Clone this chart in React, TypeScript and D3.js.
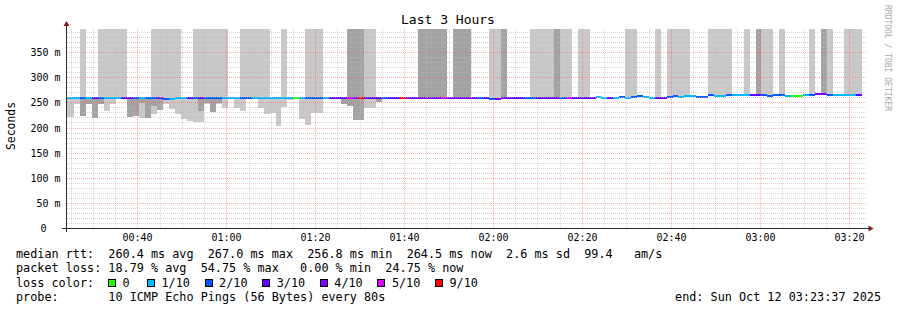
import React from 'react';
import * as d3 from 'd3';

// ---------- data ----------
const DAY = Date.UTC(2025, 9, 12);
const at = (h: number, m: number, s: number) => new Date(DAY + ((h * 60 + m) * 60 + s) * 1000);

const TITLE = 'Last 3 Hours';
const VIEW_START = at(0, 24, 2);
const VIEW_END = at(3, 24, 2);
const FIRST_STEP = at(0, 22, 57);
const STEP_MS = 80000;
const Y_MAX = 400;
const SMOKE_TOP = 398;

// lost pings (of 10) per 80 s step
const LOSS = [
  1,
  1, 1, 2, 1, 3, 2, 1, 1, 1, 3,
  3, 2, 1, 2, 2, 3, 2, 1, 1, 1,
  3, 2, 3, 2, 2, 2, 1, 1, 1, 2,
  2, 1, 1, 1, 1, 1, 1, 1, 0, 1,
  2, 2, 2, 1, 3, 3, 3, 5, 4, 9,
  3, 3, 3, 2, 3, 3, 9, 4, 4, 4,
  4, 4, 4, 5, 4, 4, 4, 4, 4, 2,
  3, 2, 4, 4, 3, 3, 3, 2, 2, 3,
  3, 3, 4, 2, 5, 3, 3, 3, 3, 1,
  1, 3, 1, 2, 1, 2, 2, 1, 1, 3,
  3, 2, 2, 1, 1, 1, 2, 2, 2, 1,
  1, 2, 1, 1, 1, 3, 3, 2, 2, 2,
  2, 1, 0, 0, 1, 2, 4, 4, 2, 1,
  1, 1, 1, 3,
];

// median rtt (ms) per step
const MEDIAN = [
  259,
  259, 259, 259, 259, 259, 259, 259, 259, 259, 259,
  259, 259, 259, 259, 259, 259, 257.5, 257.5, 259, 259,
  259, 259, 259, 259, 259, 259, 259, 259, 259, 259,
  259, 259, 259, 259.5, 259.5, 259.5, 259.5, 259.5, 259.5, 259.5,
  259.5, 259.5, 259.5, 259.5, 259.5, 259.5, 259.5, 259.5, 259.5, 259.5,
  259.5, 259.5, 259.5, 259.5, 259.5, 259.5, 259.5, 259.5, 259.5, 259.5,
  259.5, 259.5, 259.5, 259.5, 259.5, 259.5, 259.5, 259.5, 259.5, 259.5,
  259.5, 257.5, 257.5, 259.5, 259.5, 259.5, 259.5, 259.5, 259.5, 259.5,
  259.5, 259.5, 259.5, 259.5, 259.5, 259.5, 259.5, 259.5, 259.5, 262.5,
  259.5, 259.5, 260, 261, 260.5, 261, 263, 261, 260, 259.5,
  259.5, 262, 263, 262, 263, 263, 262.5, 262.5, 265.5, 264.5,
  263, 266, 265, 265, 265, 266, 266, 265, 264, 265,
  265, 263, 264.5, 264.5, 265, 266, 267, 267, 266, 265.5,
  266.5, 266, 266, 265.5,
];

// smoke reaching the top of the graph: [first step, last step]
const TOP_SMOKE_LIGHT = [
  [3, 3], [6, 10], [15, 19], [22, 27], [30, 34], [37, 37], [41, 43], [51, 52],
  [72, 73], [79, 82], [84, 85], [87, 88], [95, 96], [100, 100], [102, 105],
  [109, 112], [115, 115], [118, 119], [121, 121], [126, 126], [129, 129], [132, 134],
];
const TOP_SMOKE_DARK = [
  [48, 50], [60, 64], [66, 68], [74, 74], [83, 83], [117, 117], [128, 128],
];

// smoke below the median: [step, light low (ms), dark low (ms)]
const SMOKE_BELOW: [number, number | null, number | null][] = [
  [0, 221, null], [1, 221, null], [2, 247, null], [3, 223, 223], [4, 247, 247],
  [5, 219.5, 219.5], [6, 247, 247], [7, 234, null], [8, 248, null],
  [11, 221.5, 221.5], [12, 223.5, 223.5], [13, 219.5, 249], [14, 219.5, 219.5],
  [15, 227.5, 243], [16, 235, 235], [17, 247, null], [18, 237, null], [19, 227.5, null],
  [20, 217.5, null], [21, 213.5, null], [22, 211.5, null], [23, 211.5, 233],
  [24, 247, 250], [25, 231, 231], [26, 247, 250], [27, 239, null], [29, 239, null],
  [30, 233, null], [33, 240, null], [34, 227.5, null], [35, 229.4, null],
  [36, 203.6, null], [37, 241.4, null], [38, 255, null], [40, 217.5, null],
  [41, 205.6, null], [42, 229.4, null], [43, 229.4, null], [47, null, 247.3],
  [48, null, 243.4], [49, null, 215.5], [50, null, 215.5], [51, 239.4, null],
  [52, 239.4, null], [53, null, 251.3],
];

const Y_TICKS = [0, 50, 100, 150, 200, 250, 300, 350];

const LOSS_COLORS: Record<number, string> = {
  0: '#26ff00', 1: '#00b8ff', 2: '#0059ff', 3: '#5e00ff', 4: '#7e00ff', 5: '#dd00ff', 9: '#ff0000',
};
const LOSS_LEGEND: [number, string][] = [
  [0, '0'], [1, '1/10'], [2, '2/10'], [3, '3/10'], [4, '4/10'], [5, '5/10'], [9, '9/10'],
];

const LEGEND_RTT = 'median rtt:  260.4 ms avg  267.0 ms max  256.8 ms min  264.5 ms now  2.6 ms sd  99.4   am/s';
const LEGEND_LOSS = 'packet loss: 18.79 % avg  54.75 % max   0.00 % min  24.75 % now';
const LEGEND_COLOR = 'loss color:';
const LEGEND_PROBE = 'probe:       10 ICMP Echo Pings (56 Bytes) every 80s';
const LEGEND_END = 'end: Sun Oct 12 03:23:37 2025';
const WATERMARK = 'RRDTOOL / TOBI OETIKER';
const Y_TITLE = 'Seconds';

// ---------- chart ----------
const W = 897;
const H = 310;
const X0 = 67;
const X1 = 867;
const MONO = "'DejaVu Sans Mono', monospace";
const LIGHT = '#c9c9c9';
const DARK = '#a3a3a3';

export default function App() {
  const x = d3.scaleUtc().domain([VIEW_START, VIEW_END]).range([X0, X1]);
  const y = d3.scaleLinear().domain([0, Y_MAX]).range([228.5, 27.5]);
  const fmt = d3.utcFormat('%H:%M');

  const stepX = (i: number) => {
    const a = x(new Date(FIRST_STEP.getTime() + i * STEP_MS));
    const b = x(new Date(FIRST_STEP.getTime() + (i + 1) * STEP_MS));
    return [Math.max(X0, Math.round(a)), Math.min(X1, Math.round(b))];
  };
  const ry = (v: number) => Math.round(y(v));

  const rects: React.ReactNode[] = [];
  const topRuns = (runs: number[][], fill: string, key: string) => {
    runs.forEach(([a, b]) => {
      for (let i = a; i <= b; i++) {
        const [x0, x1] = stepX(i);
        if (x1 <= x0) continue;
        const top = ry(SMOKE_TOP);
        const bot = ry(MEDIAN[i]);
        rects.push(<rect key={`${key}${i}`} x={x0} y={top} width={x1 - x0} height={bot - top} fill={fill} />);
      }
    });
  };
  topRuns(TOP_SMOKE_LIGHT, LIGHT, 'tl');
  topRuns(TOP_SMOKE_DARK, DARK, 'td');

  SMOKE_BELOW.forEach(([i, lo, dk]) => {
    const [x0, x1] = stepX(i);
    if (x1 <= x0) return;
    const m = ry(MEDIAN[i]);
    if (lo != null) rects.push(<rect key={`bl${i}`} x={x0} y={m} width={x1 - x0} height={ry(lo) - m} fill={LIGHT} />);
    if (dk != null) rects.push(<rect key={`bd${i}`} x={x0} y={m} width={x1 - x0} height={ry(dk) - m} fill={DARK} />);
  });

  const medianRects = MEDIAN.map((m, i) => {
    const [x0, x1] = stepX(i);
    if (x1 <= x0) return null;
    const c = ry(m);
    return <rect key={`m${i}`} x={x0} y={c - 1} width={x1 - x0} height={2} fill={LOSS_COLORS[LOSS[i]]} />;
  });

  // grid
  const minutes5 = d3.utcMinute.every(5)!.range(VIEW_START, VIEW_END);
  const gx = (d: Date) => Math.floor(x(d)) + 0.5;
  const gy = (v: number) => Math.floor(y(v)) + 0.5;
  const minorV = minutes5.filter((d) => d.getUTCMinutes() % 20 !== 0);
  const majorV = minutes5.filter((d) => d.getUTCMinutes() % 20 === 0);
  const minorH = d3.range(10, SMOKE_TOP, 10).filter((v) => v % 50 !== 0);
  const majorH = Y_TICKS.filter((v) => v > 0);
  const top = ry(SMOKE_TOP);
  const minorStroke = 'rgba(186,186,186,0.6)';
  const majorStroke = 'rgba(255,95,95,0.5)';

  const legendBoxX = (i: number) => (i === 0 ? 108.5 : 147.5 + (i - 1) * 57.6);

  return (
    <svg width={W} height={H} style={{ position: 'absolute', left: 0, top: 0 }} xmlns="http://www.w3.org/2000/svg">
      <rect x={0} y={0} width={W} height={H} fill="#ffffff" />
      <g shapeRendering="crispEdges">
        {rects}
        {medianRects}
      </g>
      <g strokeWidth={1} strokeDasharray="1,1" shapeRendering="crispEdges">
        {minorH.map((v) => (
          <line key={`mh${v}`} x1={X0} x2={X1} y1={gy(v)} y2={gy(v)} stroke={minorStroke} />
        ))}
        {minorV.map((d) => (
          <line key={`mv${+d}`} x1={gx(d)} x2={gx(d)} y1={top} y2={228} stroke={minorStroke} />
        ))}
        {majorH.map((v) => (
          <line key={`Mh${v}`} x1={X0} x2={X1} y1={gy(v)} y2={gy(v)} stroke={majorStroke} />
        ))}
        {majorV.map((d) => (
          <line key={`Mv${+d}`} x1={gx(d)} x2={gx(d)} y1={top} y2={228} stroke={majorStroke} />
        ))}
      </g>
      {/* axes */}
      <g shapeRendering="crispEdges" stroke="#2c2c2c" strokeWidth={1}>
        <line x1={62} x2={869} y1={228.5} y2={228.5} />
        <line x1={66.5} x2={66.5} y1={232} y2={24} />
      </g>
      <path d="M66.5,21 L69.5,26 L63.5,26 Z" fill="#7f1f1f" />
      <path d="M873.5,228.5 L868.5,225.5 L868.5,231.5 Z" fill="#7f1f1f" />
      {/* y labels */}
      <g fontFamily={MONO} fontSize={10} fill="#000">
        {Y_TICKS.map((v) => (
          <text key={`yl${v}`} x={v === 0 ? 46.5 : 60.5} y={gy(v) + 3.6} textAnchor="end">
            {v === 0 ? '0' : `${v} m`}
          </text>
        ))}
        {majorV.map((d) => (
          <text key={`xl${+d}`} x={gx(d)} y={241} textAnchor="middle">
            {fmt(d)}
          </text>
        ))}
      </g>
      <text x={448} y={24} textAnchor="middle" fontFamily={MONO} fontSize={13} fill="#000">
        {TITLE}
      </text>
      <text transform="translate(15,126) rotate(-90)" textAnchor="middle" fontFamily={MONO} fontSize={11.4} fill="#000">
        {Y_TITLE}
      </text>
      <text transform="translate(885,5) rotate(90)" fontFamily={MONO} fontSize={8} fill="#aaaaaa">
        {WATERMARK}
      </text>
      {/* legend */}
      <g fontFamily={MONO} fontSize={11.8} fill="#000" style={{ whiteSpace: 'pre' }}>
        <text x={16} y={258} xmlSpace="preserve">{LEGEND_RTT}</text>
        <text x={16} y={272.3} xmlSpace="preserve">{LEGEND_LOSS}</text>
        <text x={16} y={286.5} xmlSpace="preserve">{LEGEND_COLOR}</text>
        {LOSS_LEGEND.map(([k, label], i) => (
          <g key={`lg${k}`}>
            <rect x={legendBoxX(i)} y={279.5} width={7} height={7} fill={LOSS_COLORS[k]} stroke="#000" strokeWidth={1} shapeRendering="crispEdges" />
            <text x={legendBoxX(i) + 14} y={286.5}>{label}</text>
          </g>
        ))}
        <text x={16} y={300.7} xmlSpace="preserve">{LEGEND_PROBE}</text>
        <text x={881} y={300.7} textAnchor="end">{LEGEND_END}</text>
      </g>
    </svg>
  );
}
